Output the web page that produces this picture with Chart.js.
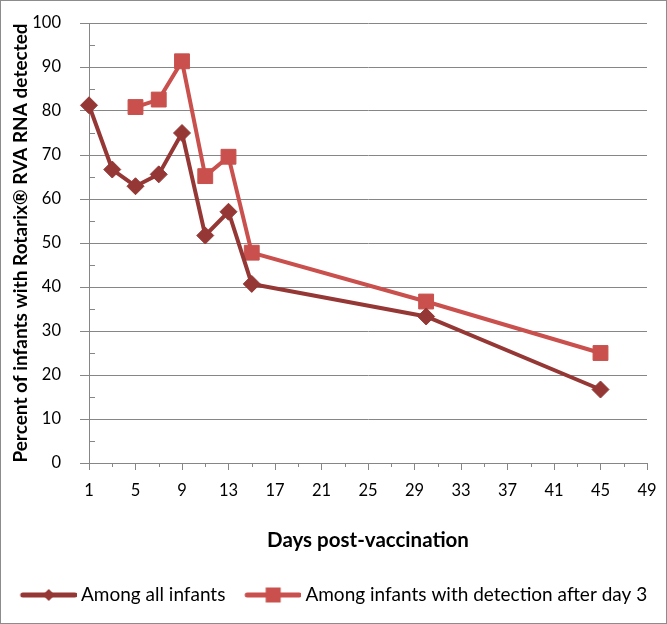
<!DOCTYPE html>
<html><head><meta charset="utf-8">
<script src="https://cdn.jsdelivr.net/npm/chart.js@4"></script>
<style>
html,body{margin:0;padding:0;background:#fff;}
#wrap{width:667px;height:624px;box-sizing:border-box;border:1px solid #8c8c8c;}
canvas{display:block;}
</style></head><body>
<div id="wrap"><canvas id="c" width="665" height="622"></canvas></div>
<script>
const days = [1, 3, 5, 7, 9, 11, 13, 15, 30, 45];
const allInfants = [81.3, 66.7, 62.9, 65.6, 75.0, 51.7, 57.1, 40.7, 33.3, 16.7];
const daysAfter3 = [5, 7, 9, 11, 13, 15, 30, 45];
const afterDay3 = [80.9, 82.6, 91.3, 65.2, 69.6, 47.8, 36.7, 25.0];
const xTicks = [1, 5, 9, 13, 17, 21, 25, 29, 33, 37, 41, 45, 49];
const xMinorTicks = [3, 7, 11, 15, 19, 23, 27, 31, 35, 39, 43, 47];
const yTicks = [0, 10, 20, 30, 40, 50, 60, 70, 80, 90, 100];
const yMinorTicks = [5, 15, 25, 35, 45, 55, 65, 75, 85, 95];
const seriesNames = ['Among all infants', 'Among infants with detection after day 3'];
const xTitle = 'Days post-vaccination';
const yTitle = 'Percent of infants with Rotarix® RVA RNA detected';

const DARK = '#953735';
const LIGHT = '#C9504D';
const AXIS = '#868686';
const FONT = "Lato, sans-serif";

function legendIcon(color, shape) {
  const c = document.createElement('canvas');
  c.width = 78; c.height = 18;
  const g = c.getContext('2d');
  g.strokeStyle = color; g.lineWidth = 5; g.lineCap = 'round';
  g.beginPath(); g.moveTo(24, 9); g.lineTo(76, 9); g.stroke();
  g.fillStyle = color;
  g.beginPath();
  if (shape === 'diamond') { g.moveTo(50, 3); g.lineTo(56, 9); g.lineTo(50, 15); g.lineTo(44, 9); g.closePath(); }
  else { g.rect(42.5, 1.5, 15, 15); }
  g.fill();
  return c;
}

const minorTicks = {
  id: 'minorTicks',
  beforeDatasetsDraw(chart) {
    const {ctx, scales: {x, y}, chartArea} = chart;
    ctx.save();
    ctx.strokeStyle = AXIS; ctx.lineWidth = 1;
    ctx.beginPath();
    yMinorTicks.forEach(v => {
      const py = Math.round(y.getPixelForValue(v)) + 0.5;
      ctx.moveTo(chartArea.left, py); ctx.lineTo(chartArea.left + 6, py);
    });
    xMinorTicks.forEach(v => {
      const px = Math.round(x.getPixelForValue(v)) + 0.5;
      ctx.moveTo(px, chartArea.bottom); ctx.lineTo(px, chartArea.bottom + 4);
    });
    ctx.stroke();
    ctx.restore();
  }
};

new Chart(document.getElementById('c'), {
  type: 'line',
  data: {
    datasets: [
      {
        label: seriesNames[0],
        data: days.map((d, i) => ({x: d, y: allInfants[i]})),
        borderColor: DARK, backgroundColor: DARK,
        borderWidth: 4, pointStyle: 'rectRot', pointRadius: 8.5,
        pointBorderWidth: 1, pointBackgroundColor: DARK, pointBorderColor: DARK,
        tension: 0, clip: false
      },
      {
        label: seriesNames[1],
        data: daysAfter3.map((d, i) => ({x: d, y: afterDay3[i]})),
        borderColor: LIGHT, backgroundColor: LIGHT,
        borderWidth: 4, pointStyle: 'rect', pointRadius: 10.5,
        pointBorderWidth: 1, pointBackgroundColor: LIGHT, pointBorderColor: LIGHT,
        tension: 0, clip: false
      }
    ]
  },
  options: {
    responsive: false,
    animation: false,
    devicePixelRatio: 1,
    layout: {padding: {left: 0, right: 0, top: 22, bottom: 8.5}},
    plugins: {
      tooltip: {enabled: false},
      legend: {
        position: 'bottom', align: 'start',
        labels: {
          usePointStyle: true, pointStyleWidth: 67.5, padding: 3,
          color: '#000', font: {family: FONT, size: 19},
          generateLabels: (chart) => [
            {text: seriesNames[0], pointStyle: legendIcon(DARK, 'diamond'), datasetIndex: 0, fontColor: '#000', lineWidth: 0},
            {text: seriesNames[1], pointStyle: legendIcon(LIGHT, 'square'), datasetIndex: 1, fontColor: '#000', lineWidth: 0}
          ]
        }
      }
    },
    scales: {
      x: {
        type: 'linear', min: 1, max: 49,
        afterBuildTicks: s => { s.ticks = xTicks.map(v => ({value: v})); },
        afterFit: s => { s.height = 119.5; s.paddingRight = 19; },
        grid: {drawOnChartArea: false, drawTicks: true, tickLength: 7, color: AXIS},
        border: {color: AXIS, width: 1},
        ticks: {color: '#000', font: {family: FONT, size: 16.5}, padding: 11, maxRotation: 0, autoSkip: false},
        title: {display: true, text: xTitle, color: '#000', font: {family: FONT, size: 20.5, weight: 'bold'}, padding: {top: 0, bottom: 30}}
      },
      y: {
        min: 0, max: 100,
        afterBuildTicks: s => { s.ticks = yTicks.map(v => ({value: v})); },
        afterFit: s => { s.width = 88; s.paddingTop = 0; s.paddingBottom = 0; },
        grid: {color: AXIS, tickLength: 9, drawTicks: true},
        border: {color: AXIS, width: 1},
        ticks: {color: '#000', font: {family: FONT, size: 16.5}, padding: 19},
        title: {display: true, text: yTitle, color: '#000', font: {family: FONT, size: 19, weight: 'bold'}, padding: {top: 8, bottom: 0}}
      }
    }
  },
  plugins: [minorTicks]
});
</script>
</body></html>
